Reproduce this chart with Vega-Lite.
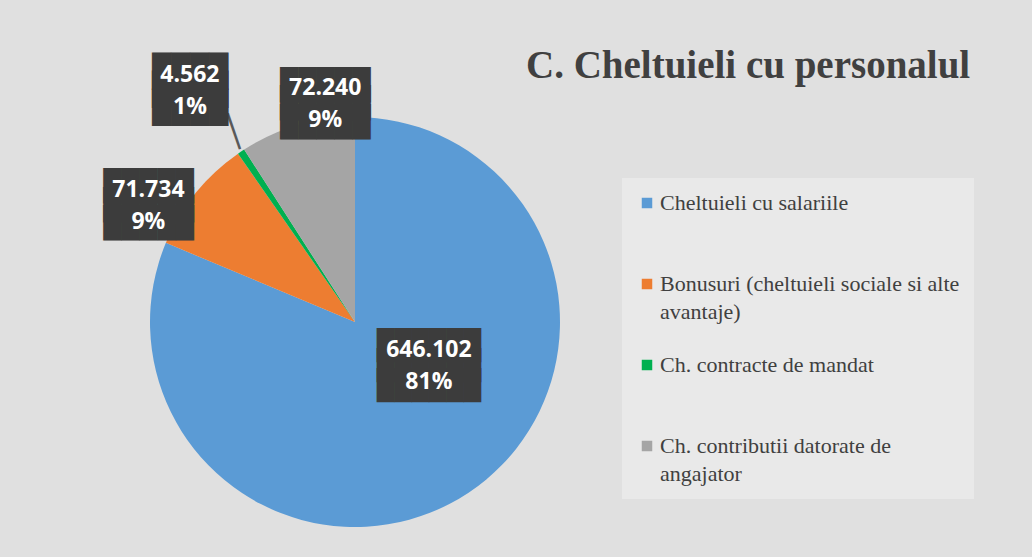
{
  "$schema": "https://vega.github.io/schema/vega-lite/v6.json",
  "width": 694,
  "height": 470,
  "autosize": {"type": "none"},
  "padding": {"left": 8, "top": 87, "right": 330, "bottom": 0},
  "background": "#e0e0e0",
  "config": {"view": {"stroke": null}, "style": {"guide-label": {"lineHeight": 28}}},
  "title": {
    "text": "C. Cheltuieli cu personalul",
    "font": "Liberation Serif",
    "fontSize": 39,
    "fontWeight": "bold",
    "color": "#404040",
    "anchor": "start",
    "frame": "group",
    "dx": 518,
    "dy": 78,
    "offset": 10
  },
  "data": {
    "values": [
      {"cat": "Cheltuieli cu salariile", "value": 646.102, "label": "646.102\n81%", "order": 1},
      {"cat": "Bonusuri (cheltuieli sociale si alte avantaje)", "value": 71.734, "label": "71.734\n9%", "order": 2},
      {"cat": "Ch. contracte de mandat", "value": 4.562, "label": "4.562\n1%", "order": 3},
      {"cat": "Ch. contributii datorate de angajator", "value": 72.240, "label": "72.240\n9%", "order": 4}
    ]
  },
  "encoding": {
    "theta": {"field": "value", "type": "quantitative", "stack": true},
    "order": {"field": "order", "type": "quantitative"}
  },
  "layer": [
    {
      "mark": {"type": "arc", "radius": 205},
      "encoding": {
        "color": {
          "field": "cat",
          "type": "nominal",
          "scale": {
            "domain": ["Cheltuieli cu salariile", "Bonusuri (cheltuieli sociale si alte avantaje)", "Ch. contracte de mandat", "Ch. contributii datorate de angajator"],
            "range": ["#5b9bd5", "#ed7d31", "#00b050", "#a5a5a5"]
          },
          "legend": {
            "title": null,
            "orient": "none",
            "legendX": 614,
            "legendY": 91,
            "fillColor": "#e9e9e9",
            "padding": 14,
            "symbolType": "square",
            "symbolSize": 110,
            "symbolStrokeWidth": 0,
            "labelFont": "Liberation Serif",
            "labelFontSize": 22,
            "labelColor": "#404040",
            "labelLimit": 400,
            "labelOffset": 2,
            "rowPadding": 31,
            "labelExpr": "datum.label === 'Bonusuri (cheltuieli sociale si alte avantaje)' ? ['Bonusuri (cheltuieli sociale si alte', 'avantaje)'] : datum.label === 'Ch. contributii datorate de angajator' ? ['Ch. contributii datorate de', 'angajator'] : [datum.label, ' ']"
          }
        }
      }
    },
    {
      "mark": {"type": "text", "radius": 225, "thetaOffset": 0.022, "text": "│", "font": "DejaVu Sans Mono", "fontSize": 32, "angle": 341, "fill": "#595959"},
      "encoding": {"opacity": {"condition": {"test": "datum.cat === 'Ch. contracte de mandat'", "value": 1}, "value": 0}}
    },
    {
      "mark": {"type": "text", "radius": 86, "thetaOffset": -0.446, "dy": -19.7, "text": ["██████", "██████", "██████"], "font": "DejaVu Sans Mono", "fontSize": 28.8, "lineHeight": 19.7, "fill": "#3c3c3c"},
      "encoding": {"opacity": {"condition": {"test": "datum.cat === 'Cheltuieli cu salariile'", "value": 1}, "value": 0}}
    },
    {
      "mark": {"type": "text", "radius": 86, "thetaOffset": -0.446, "dy": -16, "font": "Open Sans", "fontWeight": "bold", "fontSize": 23, "lineHeight": 32, "lineBreak": "\n", "fill": "white"},
      "encoding": {"text": {"field": "label"}, "opacity": {"condition": {"test": "datum.cat === 'Cheltuieli cu salariile'", "value": 1}, "value": 0}}
    },
    {
      "mark": {"type": "text", "radius": 237, "thetaOffset": -0.168, "dy": -18.5, "text": ["█████", "█████", "█████"], "font": "DejaVu Sans Mono", "fontSize": 30, "lineHeight": 18.5, "fill": "#3c3c3c"},
      "encoding": {"opacity": {"condition": {"test": "datum.cat === 'Bonusuri (cheltuieli sociale si alte avantaje)'", "value": 1}, "value": 0}}
    },
    {
      "mark": {"type": "text", "radius": 237, "thetaOffset": -0.168, "dy": -16, "font": "Open Sans", "fontWeight": "bold", "fontSize": 23, "lineHeight": 32, "lineBreak": "\n", "fill": "white"},
      "encoding": {"text": {"field": "label"}, "opacity": {"condition": {"test": "datum.cat === 'Bonusuri (cheltuieli sociale si alte avantaje)'", "value": 1}, "value": 0}}
    },
    {
      "mark": {"type": "text", "radius": 284, "thetaOffset": -0.031, "dy": -18.1, "text": ["████", "████", "████"], "font": "DejaVu Sans Mono", "fontSize": 31.6, "lineHeight": 18.1, "fill": "#3c3c3c"},
      "encoding": {"opacity": {"condition": {"test": "datum.cat === 'Ch. contracte de mandat'", "value": 1}, "value": 0}}
    },
    {
      "mark": {"type": "text", "radius": 284, "thetaOffset": -0.031, "dy": -16, "font": "Open Sans", "fontWeight": "bold", "fontSize": 23, "lineHeight": 32, "lineBreak": "\n", "fill": "white"},
      "encoding": {"text": {"field": "label"}, "opacity": {"condition": {"test": "datum.cat === 'Ch. contracte de mandat'", "value": 1}, "value": 0}}
    },
    {
      "mark": {"type": "text", "radius": 220, "thetaOffset": 0.150, "dy": -18.5, "text": ["█████", "█████", "█████"], "font": "DejaVu Sans Mono", "fontSize": 30, "lineHeight": 18.5, "fill": "#3c3c3c"},
      "encoding": {"opacity": {"condition": {"test": "datum.cat === 'Ch. contributii datorate de angajator'", "value": 1}, "value": 0}}
    },
    {
      "mark": {"type": "text", "radius": 220, "thetaOffset": 0.150, "dy": -16, "font": "Open Sans", "fontWeight": "bold", "fontSize": 23, "lineHeight": 32, "lineBreak": "\n", "fill": "white"},
      "encoding": {"text": {"field": "label"}, "opacity": {"condition": {"test": "datum.cat === 'Ch. contributii datorate de angajator'", "value": 1}, "value": 0}}
    }
  ]
}
